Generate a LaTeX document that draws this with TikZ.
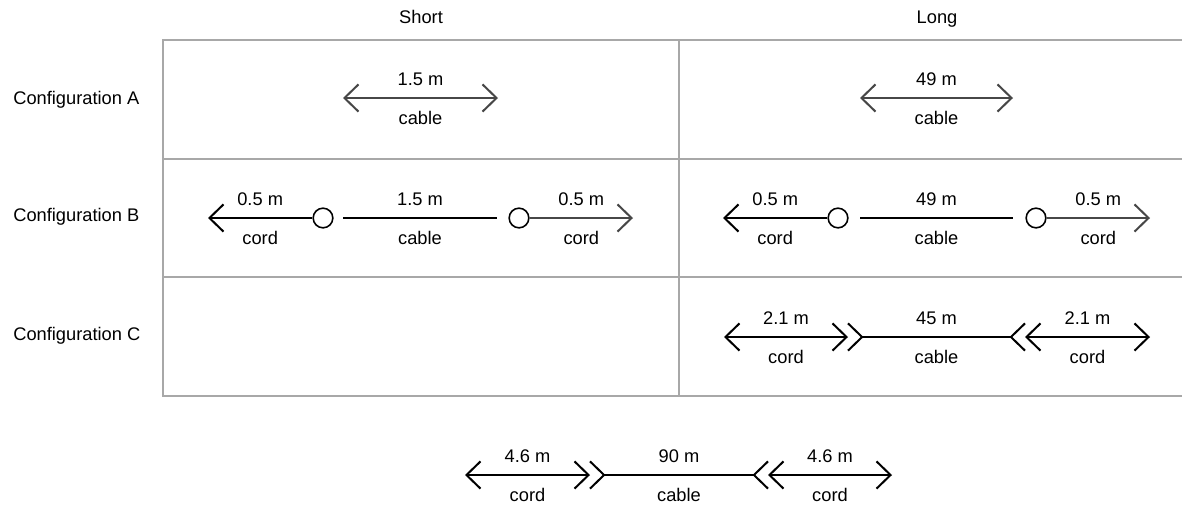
\documentclass[tikz,border=0pt]{standalone}
\usepackage{fontspec}
\setmainfont{Liberation Sans}
\usetikzlibrary{arrows.meta}

\definecolor{rule}{HTML}{A8A8A8}

\begin{document}
\begin{tikzpicture}[x=0.02cm, y=-0.02cm,
        >={Straight Barb[length=8pt,width=15.5pt]},
        grid/.style = {draw=rule, line width=0.85pt},
        wire/.style = {line width=1.15pt},
        soft/.style = {wire, draw=black!72},
        lbl/.style = {font=\fontsize{10.4}{12}\selectfont, inner sep=0pt},
        len/.style = {lbl, yshift=10.8pt},
        kind/.style = {lbl, yshift=-11.6pt},
        plug/.style = {draw, circle, fill=white, line width=0.9pt, minimum size=11.2pt, inner sep=0pt},
        coupler/.style = {wire, {Straight Barb[reversed,length=8pt,width=15.5pt]}-{Straight Barb[reversed,length=8pt,width=15.5pt]}}]
    \useasboundingbox (0,0) rectangle (1182,504);

    % table
    \draw[grid] (1182,40) -- (163,40) -- (163,396) -- (1182,396);
    \draw[grid] (163,159) -- (1182,159);
    \draw[grid] (163,277) -- (1182,277);
    \draw[grid] (679,40) -- (679,396);

    \node[lbl, anchor=base] (short) at (421,23) {Short};
    \node[lbl, anchor=base] (long)  at (937,23) {Long};
    \node[lbl, anchor=west] (cfgA) at (13,100) {Configuration A};
    \node[lbl, anchor=west] (cfgB) at (13,217) {Configuration B};
    \node[lbl, anchor=west] (cfgC) at (13,336) {Configuration C};

    % configuration A
    \coordinate (aS0) at (343,98);
    \coordinate (aS1) at (498,98);
    \draw[soft, <->] (aS0) -- node[len] (aSl) {1.5 m} node[kind] (aSk) {cable} (aS1);
    \coordinate (aL0) at (860,98);
    \coordinate (aL1) at (1013,98);
    \draw[soft, <->] (aL0) -- node[len] (aLl) {49 m} node[kind] (aLk) {cable} (aL1);

    % configuration B
    \coordinate (bS0) at (208,218);
    \node[plug] (bSp0) at (323,218) {};
    \coordinate (bS1) at (343,218);
    \coordinate (bS2) at (497,218);
    \node[plug] (bSp1) at (519,218) {};
    \coordinate (bS3) at (633,218);
    \draw[wire, <-] (bS0) -- node[len] (bSl0) {0.5 m} node[kind] (bSk0) {cord} (bSp0);
    \draw[wire] (bS1) -- node[len] (bSl1) {1.5 m} node[kind] (bSk1) {cable} (bS2);
    \draw[soft, ->] (bSp1) -- node[len] (bSl2) {0.5 m} node[kind] (bSk2) {cord} (bS3);

    \coordinate (bL0) at (723,218);
    \node[plug] (bLp0) at (838,218) {};
    \coordinate (bL1) at (860,218);
    \coordinate (bL2) at (1013,218);
    \node[plug] (bLp1) at (1036,218) {};
    \coordinate (bL3) at (1150,218);
    \draw[wire, <-] (bL0) -- node[len] (bLl0) {0.5 m} node[kind] (bLk0) {cord} (bLp0);
    \draw[wire] (bL1) -- node[len] (bLl1) {49 m} node[kind] (bLk1) {cable} (bL2);
    \draw[soft, ->] (bLp1) -- node[len] (bLl2) {0.5 m} node[kind] (bLk2) {cord} (bL3);

    % configuration C
    \coordinate (cL0) at (724,337);
    \coordinate (cL1) at (848,337);
    \coordinate (cL2) at (847,337);
    \coordinate (cL3) at (1026,337);
    \coordinate (cL4) at (1025,337);
    \coordinate (cL5) at (1150,337);
    \draw[wire, <->] (cL0) -- node[len] (cLl0) {2.1 m} node[kind] (cLk0) {cord} (cL1);
    \draw[coupler] (cL2) -- node[len] (cLl1) {45 m} node[kind] (cLk1) {cable} (cL3);
    \draw[wire, <->] (cL4) -- node[len] (cLl2) {2.1 m} node[kind] (cLk2) {cord} (cL5);

    % below the table
    \coordinate (d0) at (465,475);
    \coordinate (d1) at (590,475);
    \coordinate (d2) at (589,475);
    \coordinate (d3) at (769,475);
    \coordinate (d4) at (768,475);
    \coordinate (d5) at (892,475);
    \draw[wire, <->] (d0) -- node[len] (dl0) {4.6 m} node[kind] (dk0) {cord} (d1);
    \draw[coupler] (d2) -- node[len] (dl1) {90 m} node[kind] (dk1) {cable} (d3);
    \draw[wire, <->] (d4) -- node[len] (dl2) {4.6 m} node[kind] (dk2) {cord} (d5);
\end{tikzpicture}
\end{document}
